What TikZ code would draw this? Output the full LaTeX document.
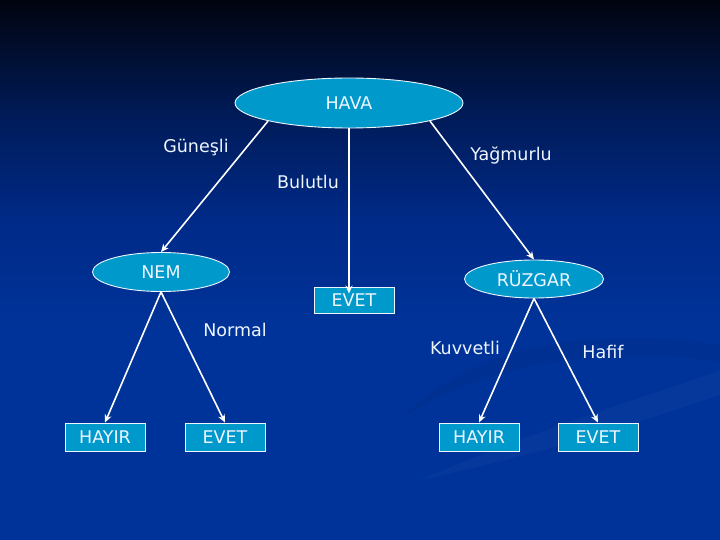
\documentclass[tikz,border=0pt]{standalone}
\usepackage{fontspec}
\setmainfont{DejaVu Sans}
\usetikzlibrary{shapes.geometric,arrows.meta}
\definecolor{bgtop}{HTML}{01040F}
\definecolor{bgup}{HTML}{001A55}
\definecolor{bgmid}{HTML}{002A88}
\definecolor{bgbot}{HTML}{003399}
\definecolor{nodefill}{HTML}{0099CC}
\definecolor{txt}{HTML}{EEF6FF}
\tikzset{
  ell/.style={ellipse, draw=txt, line width=0.9pt, fill=nodefill, text=txt, inner sep=0pt, font=\fontsize{17.5}{20}\selectfont},
  leaf/.style={rectangle, draw=txt, line width=0.9pt, fill=nodefill, text=txt, inner sep=0pt, minimum width=80pt, minimum height=28pt, font=\fontsize{17.5}{20}\selectfont},
  lbl/.style={text=txt, inner sep=0pt, font=\fontsize{17.5}{20}\selectfont},
  conn/.style={draw=white, line width=1.6pt, -{Stealth[length=8pt,width=7pt]}}
}
\begin{document}
\begin{tikzpicture}[x=1pt,y=-1pt]
\useasboundingbox (0,0) rectangle (720,540);
\fill[bgbot] (0,0) rectangle (720,540);
\shade[top color=bgtop, bottom color=bgup] (0,0) rectangle (720,110);
\shade[top color=bgup, bottom color=bgmid] (0,109.5) rectangle (720,220);
\shade[top color=bgmid, bottom color=bgbot] (0,219.5) rectangle (720,330);
% faint swoosh lower right
\fill[black,opacity=0.05] (400,420) .. controls (480,330) and (640,330) .. (720,345) -- (720,362) .. controls (640,350) and (500,350) .. (400,420) -- cycle;
\fill[white,opacity=0.025] (420,480) .. controls (560,420) and (670,390) .. (720,370) -- (720,395) .. controls (660,415) and (560,450) .. (420,480) -- cycle;

\node[ell, minimum width=228pt, minimum height=50pt] (hava) at (349,103) {HAVA};
\node[ell, minimum width=137pt, minimum height=39pt] (nem) at (161,272) {NEM};
\node[ell, minimum width=139pt, minimum height=38pt] (ruz) at (534,279) {RÜZGAR};
\node[leaf, minimum height=26pt] (evetm) at (354,300) {EVET};
\node[leaf] (hayir1) at (105,437) {HAYIR};
\node[leaf] (evet1) at (225,437) {EVET};
\node[leaf] (hayir2) at (479,437) {HAYIR};
\node[leaf] (evet2) at (598,437) {EVET};

\coordinate (bend) at ([yshift=-7pt]hava.south |- evetm.north);
\draw[conn] (hava.south west) -- (nem.north);
\draw[conn] (hava.south) -- (bend);
\draw[conn] (hava.south east) -- (ruz.north);
\draw[conn] (nem.south) -- (hayir1.north);
\draw[conn] (nem.south) -- (evet1.north);
\draw[conn] (ruz.south) -- (hayir2.north);
\draw[conn] (ruz.south) -- (evet2.north);

\node[lbl] (l1) at (196,148) {Güneşli};
\node[lbl] (l2) at (511,155) {Yağmurlu};
\node[lbl] (l3) at (308,182) {Bulutlu};
\node[lbl] (l4) at (235,330) {Normal};
\node[lbl] (l5) at (465,348) {Kuvvetli};
\node[lbl] (l6) at (603,352) {Hafif};
\end{tikzpicture}
\end{document}
